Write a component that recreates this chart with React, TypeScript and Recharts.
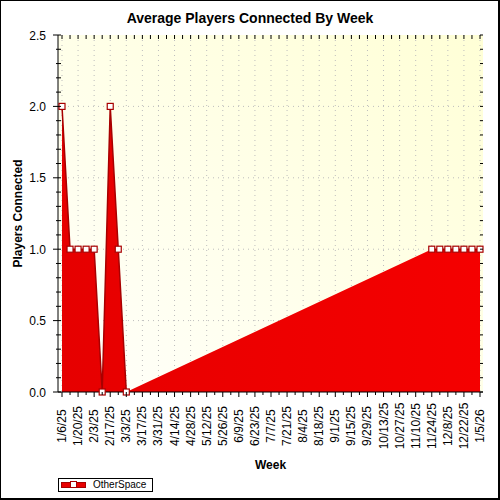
import React from 'react';
import { ComposedChart, Area, Line, XAxis, YAxis, CartesianGrid, Legend } from 'recharts';

const weeks = [
  '1/6/25', '1/13/25', '1/20/25', '1/27/25', '2/3/25', '2/10/25', '2/17/25', '2/24/25',
  '3/3/25', '3/10/25', '3/17/25', '3/24/25', '3/31/25', '4/7/25', '4/14/25', '4/21/25',
  '4/28/25', '5/5/25', '5/12/25', '5/19/25', '5/26/25', '6/2/25', '6/9/25', '6/16/25',
  '6/23/25', '6/30/25', '7/7/25', '7/14/25', '7/21/25', '7/28/25', '8/4/25', '8/11/25',
  '8/18/25', '8/25/25', '9/1/25', '9/8/25', '9/15/25', '9/22/25', '9/29/25', '10/6/25',
  '10/13/25', '10/20/25', '10/27/25', '11/3/25', '11/10/25', '11/17/25', '11/24/25', '12/1/25',
  '12/8/25', '12/15/25', '12/22/25', '12/29/25', '1/5/26',
];

const otherSpace: (number | null)[] = [
  2, 1, 1, 1, 1, 0, 2, 1, 0,
  null, null, null, null, null, null, null, null, null, null,
  null, null, null, null, null, null, null, null, null, null,
  null, null, null, null, null, null, null, null, null, null,
  null, null, null, null, null, null, null,
  1, 1, 1, 1, 1, 1, 1,
];

const labeledWeeks = [
  '1/6/25', '1/20/25', '2/3/25', '2/17/25', '3/3/25', '3/17/25', '3/31/25', '4/14/25',
  '4/28/25', '5/12/25', '5/26/25', '6/9/25', '6/23/25', '7/7/25', '7/21/25', '8/4/25',
  '8/18/25', '9/1/25', '9/15/25', '9/29/25', '10/13/25', '10/27/25', '11/10/25', '11/24/25',
  '12/8/25', '12/22/25', '1/5/26',
];

const yTicks = [
  0, 0.1, 0.2, 0.3, 0.4, 0.5, 0.6, 0.7, 0.8, 0.9, 1.0, 1.1, 1.2,
  1.3, 1.4, 1.5, 1.6, 1.7, 1.8, 1.9, 2.0, 2.1, 2.2, 2.3, 2.4, 2.5,
];
const yMajorTicks = [0, 0.5, 1.0, 1.5, 2.0, 2.5];
const yGridValues = [0.5, 1.0, 1.5, 2.0];
const yDomain = [0, 2.5];

const SERIES_NAME = 'OtherSpace';
const TITLE = 'Average Players Connected By Week';
const X_TITLE = 'Week';
const Y_TITLE = 'Players Connected';

const data = weeks.map((week, i) => ({ week, [SERIES_NAME]: otherSpace[i] }));

const FONT = 'Arial, "Liberation Sans", sans-serif';
const PLOT_TOP = 35;
const PLOT_RIGHT = 483;
const DARK = '#a80000';

const isMajorY = (v: number) => yMajorTicks.some((m) => Math.abs(m - v) < 1e-6);

const XTick = (props: any) => {
  const { x, y, payload } = props;
  const major = labeledWeeks.includes(payload.value);
  const ly = 426;
  return (
    <g>
      <line x1={x} y1={y} x2={x} y2={y + (major ? 5 : 3)} stroke="#000" strokeWidth={1} />
      <line x1={x} y1={PLOT_TOP} x2={x} y2={PLOT_TOP + 4} stroke="#000" strokeWidth={1} />
      {major && (
        <text
          x={x}
          y={ly}
          dy={4}
          transform={`rotate(-90 ${x} ${ly})`}
          textAnchor="middle"
          fontSize={12}
          fontFamily={FONT}
          fill="#000"
        >
          {payload.value}
        </text>
      )}
    </g>
  );
};

const YTick = (props: any) => {
  const { x, y, payload } = props;
  const major = isMajorY(payload.value);
  return (
    <g>
      <line x1={x - (major ? 5 : 2)} y1={y} x2={x + 3} y2={y} stroke="#000" strokeWidth={1} />
      <line x1={PLOT_RIGHT - 3} y1={y} x2={PLOT_RIGHT} y2={y} stroke="#000" strokeWidth={1} />
      {major && (
        <text x={x - 12} y={y} dy={4.5} textAnchor="end" fontSize={12} fontFamily={FONT} fill="#000">
          {Number(payload.value).toFixed(1)}
        </text>
      )}
    </g>
  );
};

const YLabel = (props: any) => {
  const vb = props.viewBox || { x: 0, y: 35, width: 58, height: 357 };
  const cx = 22;
  const cy = vb.y + vb.height / 2;
  return (
    <text
      x={cx}
      y={cy}
      transform={`rotate(-90 ${cx} ${cy})`}
      textAnchor="middle"
      fontSize={12}
      fontWeight="bold"
      fontFamily={FONT}
      fill="#000"
    >
      {Y_TITLE}
    </text>
  );
};

const XLabel = (props: any) => {
  const vb = props.viewBox || { x: 58, y: 392, width: 425, height: 108 };
  return (
    <text
      x={vb.x + vb.width / 2}
      y={469}
      textAnchor="middle"
      fontSize={12}
      fontWeight="bold"
      fontFamily={FONT}
      fill="#000"
    >
      {X_TITLE}
    </text>
  );
};

const SquareDot = (props: any) => {
  const { cx, cy, index } = props;
  if (cx == null || cy == null || Number.isNaN(cx) || Number.isNaN(cy)) return <g key={`d${index}`} />;
  return (
    <rect
      key={`d${index}`}
      x={cx - 3}
      y={cy - 3}
      width={6}
      height={6}
      fill="#fff"
      stroke={DARK}
      strokeWidth={1.2}
    />
  );
};

const LegendContent = () => (
  <div
    style={{
      border: '1px solid #000',
      boxSizing: 'border-box',
      width: 95,
      height: 14,
      display: 'flex',
      alignItems: 'center',
      background: '#fff',
    }}
  >
    <svg width={34} height={12} style={{ display: 'block', flex: 'none' }}>
      <rect x={2.5} y={3.5} width={24} height={5} fill="#e80000" stroke={DARK} strokeWidth={1} />
      <rect x={11.5} y={2.5} width={6} height={6} fill="#fff" stroke={DARK} strokeWidth={1} />
    </svg>
    <span style={{ fontSize: 10, fontFamily: FONT, color: '#000', lineHeight: '12px' }}>{SERIES_NAME}</span>
  </div>
);

export default function App() {
  return (
    <div style={{ position: 'absolute', left: 0, top: 0, width: 500, height: 500, background: '#fff' }}>
      <ComposedChart
        width={500}
        height={500}
        data={data}
        margin={{ top: PLOT_TOP, right: 500 - PLOT_RIGHT, bottom: 0, left: 0 }}
      >
        <defs>
          <linearGradient id="plotBg" x1="0" y1="1" x2="1" y2="0">
            <stop offset="0%" stopColor="#fffffb" />
            <stop offset="100%" stopColor="#ffffd6" />
          </linearGradient>
          <linearGradient id="areaFill" x1="0" y1="0" x2="1" y2="0">
            <stop offset="0%" stopColor="#e60000" />
            <stop offset="100%" stopColor="#f50000" />
          </linearGradient>
        </defs>
        <CartesianGrid
          fill="url(#plotBg)"
          fillOpacity={1}
          stroke="#bdbdbd"
          strokeDasharray="1 4"
          horizontalValues={yGridValues}
          verticalValues={labeledWeeks}
        />
        <XAxis
          dataKey="week"
          interval={0}
          padding={{ left: 4, right: 3 }}
          height={108}
          tickSize={0}
          tickMargin={0}
          tickLine={false}
          tick={XTick}
          axisLine={{ stroke: '#000' }}
          label={XLabel}
        />
        <XAxis
          xAxisId="top"
          dataKey="week"
          orientation="top"
          interval={0}
          padding={{ left: 4, right: 3 }}
          height={0}
          tick={false}
          tickLine={false}
          axisLine={{ stroke: '#000' }}
        />
        <YAxis
          domain={yDomain}
          ticks={yTicks}
          interval={0}
          width={58}
          tickSize={0}
          tickMargin={0}
          tickLine={false}
          tick={YTick}
          axisLine={{ stroke: '#000' }}
          label={YLabel}
        />
        <YAxis
          yAxisId="right"
          orientation="right"
          domain={yDomain}
          width={0}
          tick={false}
          tickLine={false}
          axisLine={{ stroke: '#000' }}
        />
        <Legend
          layout="vertical"
          align="center"
          verticalAlign="middle"
          content={LegendContent}
          wrapperStyle={{ position: 'absolute', left: 58, top: 478, width: 'auto', height: 'auto', margin: 0 }}
        />
        <Area
          type="linear"
          dataKey={SERIES_NAME}
          name={SERIES_NAME}
          fill="url(#areaFill)"
          fillOpacity={1}
          stroke="none"
          connectNulls
          dot={false}
          activeDot={false}
          isAnimationActive={false}
        />
        <Line
          type="linear"
          dataKey={SERIES_NAME}
          name={SERIES_NAME}
          stroke={DARK}
          strokeWidth={1.5}
          dot={SquareDot}
          activeDot={false}
          legendType="none"
          isAnimationActive={false}
        />
      </ComposedChart>
      <div
        style={{
          position: 'absolute',
          left: 0,
          top: 11,
          width: 500,
          textAlign: 'center',
          fontFamily: FONT,
          fontWeight: 'bold',
          fontSize: 14,
          lineHeight: '14px',
          color: '#000',
          pointerEvents: 'none',
        }}
      >
        {TITLE}
      </div>
      <div
        style={{
          position: 'absolute',
          left: 0,
          top: 0,
          width: 500,
          height: 500,
          boxSizing: 'border-box',
          borderTop: '1px solid #000',
          borderLeft: '1px solid #000',
          borderRight: '2px solid #000',
          borderBottom: '2px solid #000',
          pointerEvents: 'none',
        }}
      />
    </div>
  );
}
